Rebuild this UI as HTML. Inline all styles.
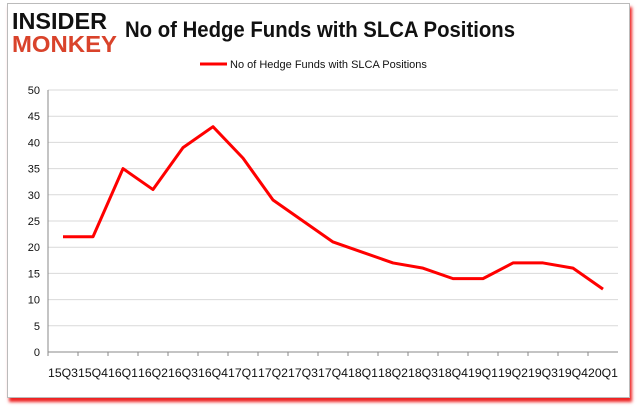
<!DOCTYPE html>
<html><head><meta charset="utf-8"><style>
body{margin:0;background:#fff;}
#wrap{position:relative;width:637px;height:408px;overflow:hidden;font-family:"Liberation Sans",sans-serif;}
#frame{position:absolute;left:7px;top:3px;width:621px;height:393px;border:1px solid #bbb;background:#fff;box-shadow:2px 4px 3px #e22;}
</style></head><body>
<div id="wrap">
<div id="frame"></div>
<svg id="svg" width="637" height="408" style="position:absolute;left:0;top:0">
<text x="12" y="29" font-size="23" font-weight="bold" fill="#111" font-family="Liberation Sans" textLength="95" lengthAdjust="spacingAndGlyphs">INSIDER</text>
<text x="12" y="52" font-size="23" font-weight="bold" fill="#d9432b" font-family="Liberation Sans" textLength="105" lengthAdjust="spacingAndGlyphs">MONKEY</text>
<text x="125" y="37" font-size="22" font-weight="bold" fill="#111" textLength="390" lengthAdjust="spacingAndGlyphs">No of Hedge Funds with SLCA Positions</text>
<line x1="200" y1="64" x2="227" y2="64" stroke="#f00" stroke-width="3"/>
<text x="230" y="68" font-size="11" fill="#111">No of Hedge Funds with SLCA Positions</text>
<g id="axes"></g>
</svg>
</div>
<script>
const categories=["15Q3","15Q4","16Q1","16Q2","16Q3","16Q4","17Q1","17Q2","17Q3","17Q4","18Q1","18Q2","18Q3","18Q4","19Q1","19Q2","19Q3","19Q4","20Q1"];
const values=[22,22,35,31,39,43,37,29,25,21,19,17,16,14,14,17,17,16,12];
const yTicks=[0,5,10,15,20,25,30,35,40,45,50];
const ns="http://www.w3.org/2000/svg";
const g=document.getElementById('axes');
const x0=48,x1=618,y0=352,y1=90,yMax=50;
const band=(x1-x0)/categories.length;
const xs=i=>x0+band*(i+0.5);
const ys=v=>y0-(v/yMax)*(y0-y1);
function mk(t,a){const e=document.createElementNS(ns,t);for(const k in a)e.setAttribute(k,a[k]);g.appendChild(e);return e;}
yTicks.forEach(v=>{
 const l=mk('line',{x1:x0,x2:x1,y1:ys(v),y2:ys(v),stroke:v===0?'#888':'#d9d9d9','stroke-width':1});
 
 
 const t=mk('text',{x:x0-8,y:ys(v)+4,'font-size':11,'text-anchor':'end',fill:'#111'});
 t.textContent=v;
 
 
});
const ax=mk('line',{x1:x0,x2:x0,y1:y1,y2:y0,stroke:'#888'});


categories.forEach((c,i)=>{
 const tk=mk('line',{x1:x0+band*i,x2:x0+band*i,y1:y0,y2:y0+4,stroke:'#888'});
 
 
 const t=mk('text',{x:x0+band*i,y:377,'font-size':12,fill:'#111',textLength:band,lengthAdjust:'spacingAndGlyphs'});
 t.textContent=c;
 
 
});
const p=mk('polyline',{points:values.map((v,i)=>xs(i)+','+ys(v)).join(' '),fill:'none',stroke:'#f00','stroke-width':3,'stroke-linejoin':'round'});


</script>
</body></html>
